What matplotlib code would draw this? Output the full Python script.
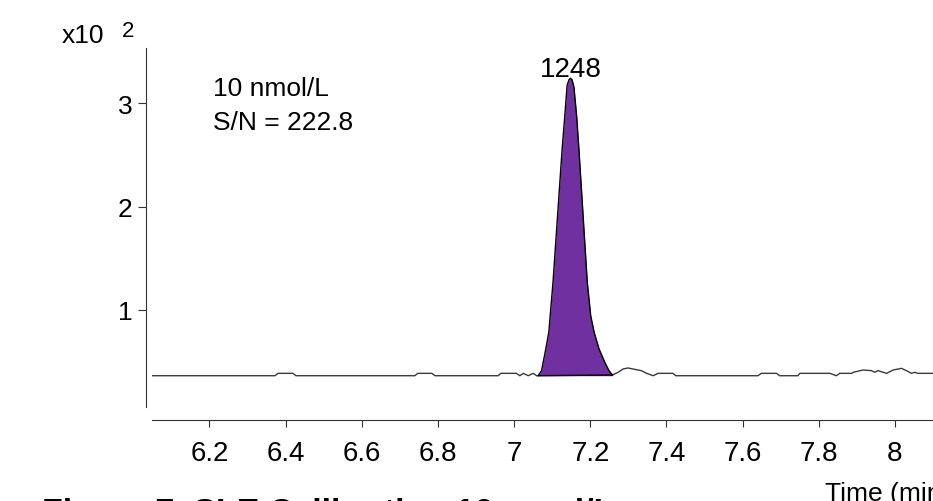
import matplotlib
matplotlib.use('Agg')
import matplotlib.pyplot as plt

plt.rcParams['font.family'] = ['Liberation Sans', 'DejaVu Sans']

# retention time (min) and response (x10^2 counts)
time_before = [6.05, 6.372, 6.380, 6.419, 6.427, 6.739, 6.747, 6.784, 6.792,
               6.958, 6.965, 7.006, 7.015, 7.024, 7.037, 7.050, 7.059]
resp_before = [0.365, 0.365, 0.388, 0.388, 0.365, 0.365, 0.388, 0.388, 0.365,
               0.365, 0.388, 0.388, 0.365, 0.388, 0.365, 0.388, 0.365]

peak_time = [7.063, 7.072, 7.083, 7.091, 7.102, 7.114, 7.126, 7.133, 7.139,
             7.144, 7.148, 7.152, 7.157, 7.164, 7.170, 7.181, 7.192, 7.201,
             7.210, 7.223, 7.238, 7.249, 7.258]
peak_resp = [0.365, 0.414, 0.623, 0.785, 1.268, 1.911, 2.556, 2.877, 3.170,
             3.225, 3.239, 3.225, 3.152, 2.877, 2.556, 1.911, 1.268, 0.945,
             0.785, 0.623, 0.495, 0.414, 0.372]

time_after = [7.258, 7.273, 7.286, 7.299, 7.312, 7.334, 7.348, 7.365, 7.378,
              7.417, 7.424, 7.640, 7.649, 7.689, 7.697, 7.745, 7.750, 7.829,
              7.846, 7.855, 7.886, 7.890, 7.916, 7.938, 7.947, 7.955, 7.978,
              7.995, 8.017, 8.030, 8.043, 8.052, 8.060, 8.100, 8.200]
resp_after = [0.372, 0.398, 0.430, 0.440, 0.430, 0.414, 0.388, 0.365, 0.388,
              0.388, 0.365, 0.365, 0.388, 0.388, 0.365, 0.365, 0.388, 0.388,
              0.365, 0.388, 0.388, 0.398, 0.420, 0.414, 0.398, 0.414, 0.388,
              0.420, 0.436, 0.414, 0.388, 0.398, 0.388, 0.388, 0.388]

x_ticks = [6.2, 6.4, 6.6, 6.8, 7.0, 7.2, 7.4, 7.6, 7.8, 8.0, 8.2]
x_tick_labels = ['6.2', '6.4', '6.6', '6.8', '7', '7.2', '7.4', '7.6', '7.8', '8', '8.2']
y_ticks = [1, 2, 3]

peak_label = '1248'
conc_label = '10 nmol/L'
sn_label = 'S/N = 222.8'
caption = 'Figure 7. SLE Calibration 10 nmol/L'

fig = plt.figure(figsize=(9.33, 5.02), dpi=100)
ax = fig.add_axes([0.1629, 0.1873, 0.878, 0.715])

trace_color = '#3a3a3a'
ax.plot(time_before, resp_before, color=trace_color, lw=1.0)
ax.plot(time_after, resp_after, color=trace_color, lw=1.0)
ax.fill_between(peak_time, peak_resp, [peak_resp[0]] * len(peak_resp),
                color='#7030a0', lw=0, zorder=2)
ax.plot(peak_time, peak_resp, color='black', lw=1.0, zorder=3)
ax.plot([peak_time[0], peak_time[-1]], [peak_resp[0], peak_resp[-1]],
        color='black', lw=1.0, zorder=3)

ax.set_xlim(6.049, 8.2)
ax.set_ylim(0.063, 3.531)

ax.spines['top'].set_visible(False)
ax.spines['right'].set_visible(False)
ax.spines['left'].set_position(('outward', 4.3))
ax.spines['bottom'].set_position(('outward', 9.4))
ax.spines['left'].set_color('#333333')
ax.spines['bottom'].set_color('#333333')

ax.set_xticks(x_ticks)
ax.set_xticklabels(x_tick_labels)
ax.set_yticks(y_ticks)
ax.tick_params(axis='x', labelsize=20, length=5, pad=9.5, color='#333333')
ax.tick_params(axis='y', labelsize=19, length=5.5, pad=4, color='#333333')

ax.text(peak_time[10], 3.258, peak_label, fontsize=20, ha='center', va='baseline')
ax.text(6.209, 3.077, conc_label, fontsize=19, ha='left', va='baseline')
ax.text(6.209, 2.749, sn_label, fontsize=19, ha='left', va='baseline')

# y multiplier in the top-left corner
fig.text(0.0661, 0.9137, 'x10', fontsize=19, ha='left', va='baseline')
fig.text(0.1304, 0.9269, '2', fontsize=16, ha='left', va='baseline')

fig.text(0.884, 0.0026, 'Time (min)', fontsize=19, ha='left', va='baseline')
# caption runs off the bottom edge, as in the source
fig.text(0.045, -0.04, caption, fontsize=24.5, fontweight='bold',
         ha='left', va='baseline')

fig.savefig('out.png', dpi=100)
